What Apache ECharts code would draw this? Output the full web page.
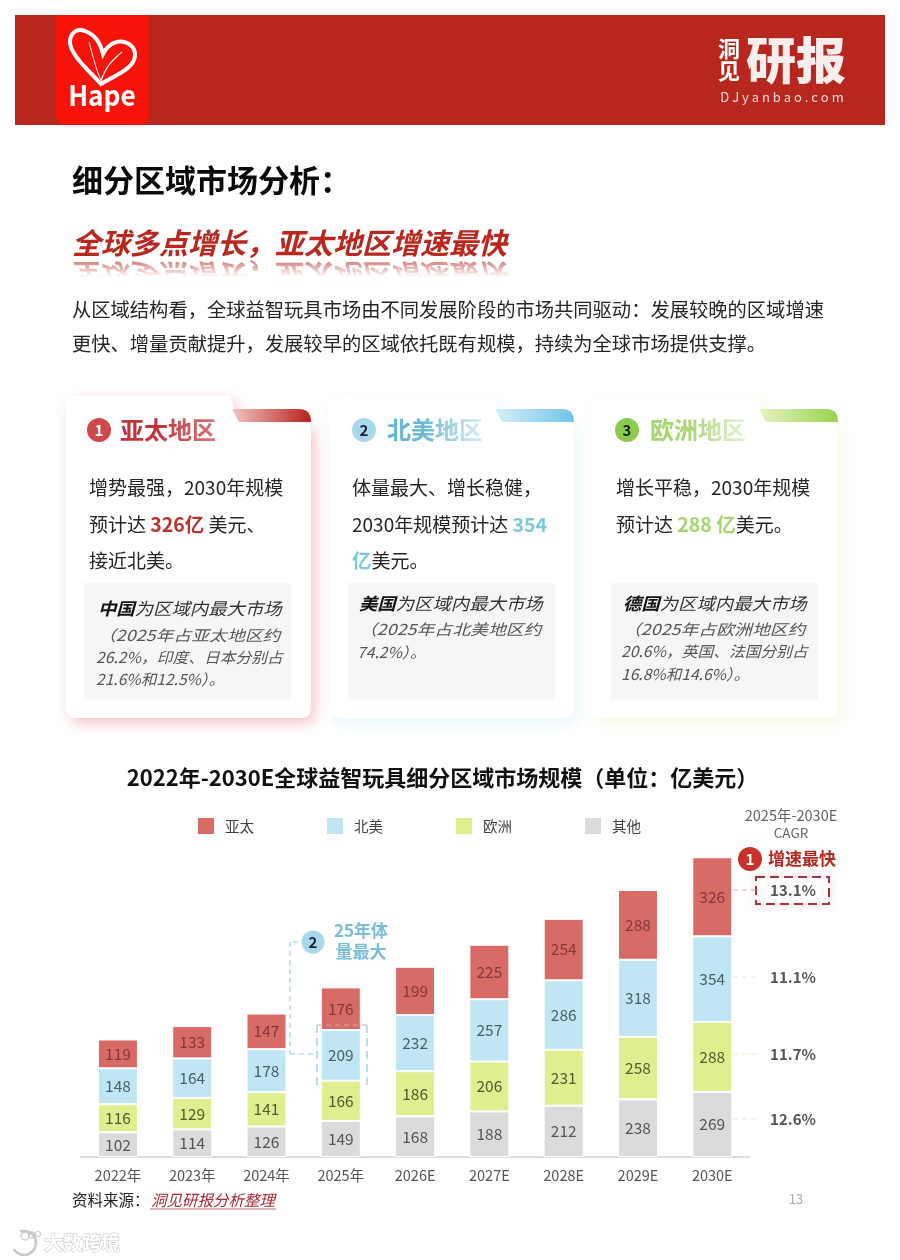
<!DOCTYPE html>
<html><head><meta charset="utf-8">
<style>html,body{margin:0;padding:0;background:#fff}#c{width:900px;height:1260px}</style>
<script src="https://cdn.jsdelivr.net/npm/echarts@6/dist/echarts.min.js"></script>
</head><body><div id="c"></div>
<script>
const categories = ['2022年','2023年','2024年','2025年','2026E','2027E','2028E','2029E','2030E'];
const apac = [119,133,147,176,199,225,254,288,326];
const northAmerica = [148,164,178,209,232,257,286,318,354];
const europe = [116,129,141,166,186,206,231,258,288];
const others = [102,114,126,149,168,188,212,238,269];
const legendNames = ['亚太','北美','欧洲','其他'];
const cagrLabels = ['13.1%','11.1%','11.7%','12.6%'];

const FF = '"Noto Sans CJK SC","Noto Sans",sans-serif';
const RED='#d96b67', BLUE='#bfe6f2', GREEN='#dfee8f', GREY='#dbdbdd';
const g = [];
function T(text,x,y,size,fill,o){o=o||{};
  g.push({type:'text',z:o.z||10,x:o.ex||0,y:o.ey||0,scaleY:o.scaleY==null?1:o.scaleY,scaleX:o.scaleX==null?1:o.scaleX,opacity:o.opacity==null?1:o.opacity,silent:true,
    style:{text,x,y,fill,align:o.align||'left',verticalAlign:o.va||'middle',
      font:(o.italic?'italic ':'')+(o.weight||'normal')+' '+size+'px '+FF,
      rich:o.rich,stroke:o.stroke,lineWidth:o.lineWidth||0,shadowBlur:o.sb||0,shadowColor:o.sc}});
}
function R(x,y,w,h,fill,o){o=o||{};g.push({type:'rect',z:o.z||5,silent:true,shape:{x,y,width:w,height:h,r:o.r||0},style:{fill,stroke:o.stroke,lineWidth:o.lw||0,lineDash:o.dash,shadowBlur:o.sb||0,shadowColor:o.sc}});}
/* small path sampler: graphic has no path type, so curves become polygons / polylines */
function pts(d){
  const tk=d.match(/[MHVLQCZ]|-?[\d.]+/g); const out=[]; let i=0,cx=0,cy=0,cmd='';
  const n=()=>parseFloat(tk[i++]);
  while(i<tk.length){
    if(/[MHVLQCZ]/.test(tk[i])) cmd=tk[i++];
    if(cmd==='Z') continue;
    if(cmd==='M'||cmd==='L'){cx=n();cy=n();out.push([cx,cy]);}
    else if(cmd==='H'){cx=n();out.push([cx,cy]);}
    else if(cmd==='V'){cy=n();out.push([cx,cy]);}
    else if(cmd==='Q'){const a=n(),b=n(),e=n(),f=n();for(let t=1;t<=10;t++){const u=t/10,v=1-u;out.push([v*v*cx+2*v*u*a+u*u*e,v*v*cy+2*v*u*b+u*u*f]);}cx=e;cy=f;}
    else if(cmd==='C'){const a=n(),b=n(),c=n(),h=n(),e=n(),f=n();for(let t=1;t<=16;t++){const u=t/16,v=1-u;out.push([v*v*v*cx+3*v*v*u*a+3*v*u*u*c+u*u*u*e,v*v*v*cy+3*v*v*u*b+3*v*u*u*h+u*u*u*f]);}cx=e;cy=f;}
  }
  return out;
}
function P(d,style,z){g.push({type:/Z\s*$/.test(d)?'polygon':'polyline',z:z||6,silent:true,shape:{points:pts(d)},style});}
function L(x1,y1,x2,y2,stroke,w,dash,z){g.push({type:'line',z:z||12,silent:true,shape:{x1,y1,x2,y2},style:{stroke,lineWidth:w||1,lineDash:dash}});}
function C(x,y,r,fill,o){o=o||{};g.push({type:'circle',z:o.z||9,silent:true,shape:{cx:x,cy:y,r},style:{fill,stroke:o.stroke,lineWidth:o.lw||0,shadowBlur:o.sb||0,shadowColor:o.sc}});}
function lg(c0,c1,horizontal){return {type:'linear',x:0,y:0,x2:horizontal?1:0,y2:horizontal?0:1,colorStops:[{offset:0,color:c0},{offset:1,color:c1}]};}

/* header */
R(15,15,870,110,'#b7271d');
P('M56 15H149V113Q149 125 137 125H68Q56 125 56 113Z',{fill:'#f5130a'},6);
P('M101 84C88 70 70 54 70 42C70 32 78 28 85 31C95 35 100 42 103 54C108 44 117 40 124 42C133 44 137 52 134 60C130 70 114 76 101 84Z',{fill:'none',stroke:'#fff',lineWidth:4},7);
P('M89 42C93 56 96 70 101 80',{fill:'none',stroke:'#fff',lineWidth:1},7);
P('M101 82C104 70 110 62 122 52',{fill:'none',stroke:'#fff',lineWidth:1.2},7);
T('Hape',0,95,28,'#fff',{align:'center',weight:'bold',ex:102,scaleX:.94});
T('洞',729,49,22,'#fff',{align:'center',weight:'bold'});
T('见',729,71,22,'#fff',{align:'center',weight:'bold'});
T('研报',796,60,50,'#f8eeee',{align:'center',weight:'900'});
T('D J y a n b a o . c o m',782,97,13,'#f4dcd9',{align:'center'});

/* headings */
T('细分区域市场分析：',72,180,31,'#0a0a0a',{weight:'bold'});
T('全球多点增长，亚太地区增速最快',72,243,29,'#b8281f',{weight:'bold',italic:true,z:10});
T('全球多点增长，亚太地区增速最快',72,0,29,'#b8281f',{weight:'bold',italic:true,ey:275,scaleY:-1,opacity:.3,z:8});
R(60,257,470,20,lg('rgba(255,255,255,.25)','rgba(255,255,255,1)'),{z:9});
R(60,277,470,14,'#fff',{z:9});
T('从区域结构看，全球益智玩具市场由不同发展阶段的市场共同驱动：发展较晚的区域增速',72,310,19.3,'#262626');
T('更快、增量贡献提升，发展较早的区域依托既有规模，持续为全球市场提供支撑。',72,344,19.3,'#262626');

/* cards */
const cards = [
 {x:66,glow:'rgba(226,90,100,.36)',strip:['#f3c3c3','#b8201c'],num:'1',numFill:'#d2484a',numTxt:'#fff',title:'亚太地区',tc:'#c2333a',fade:.35,noteDx:14,cdx:0,tdx:0,
  body:['增势最强，2030年规模','预计达 {a|326亿} 美元、','接近北美。'],hi:'#b8352d',
  noteY:[609,635,657,679],note:[['中国','为区域内最大市场'],'（2025年占亚太地区约','26.2%，印度、日本分别占','21.6%和12.5%）。']},
 {x:329,glow:'rgba(150,215,240,.26)',strip:['#d7eff9','#72c3e8'],num:'2',numFill:'#a9d8ec',numTxt:'#14233a',title:'北美地区',tc:'#69b8d6',fade:.8,noteDx:11,cdx:2,tdx:4,
  body:['体量最大、增长稳健，','2030年规模预计达 {a|354}','{a|亿}美元。'],hi:'#7cc8dc',
  noteY:[604,629,652],note:[['美国','为区域内最大市场'],'（2025年占北美地区约','74.2%）。']},
 {x:593,glow:'rgba(200,235,140,.26)',strip:['#e6f5c0','#97d24e'],num:'3',numFill:'#8ccb4e',numTxt:'#16220a',title:'欧洲地区',tc:'#a5d670',fade:.75,noteDx:12,cdx:1,tdx:3,
  body:['增长平稳，2030年规模','预计达 {a|288 亿}美元。'],hi:'#a4d86e',
  noteY:[604,629,651,674],note:[['德国','为区域内最大市场'],'（2025年占欧洲地区约','20.6%，英国、法国分别占','16.8%和14.6%）。']}
];
const noteScale=[1.08,1.19,1.05,1.04];
cards.forEach((c,i)=>{
  const x=c.x, r=x+245, tab=x+164;
  P(`M${x+10} 396H${tab}L${tab+9} 422H${r-10}Q${r} 422 ${r} 432V708Q${r} 718 ${r-10} 718H${x+10}Q${x} 718 ${x} 708V406Q${x} 396 ${x+10} 396Z`,
    {fill:'#fff',shadowBlur:14,shadowColor:c.glow,shadowOffsetX:4,shadowOffsetY:5},4);
  P(`M${tab+2} 409H${r-12}Q${r} 409 ${r} 422H${tab+9}Z`,{fill:lg(c.strip[0],c.strip[1],true)},5);
  C(x+33+c.cdx,430,12,c.numFill,{});
  T(c.num,x+33+c.cdx,430,15,c.numTxt,{align:'center',weight:'bold'});
  T(c.title,x+54+c.tdx,430,24,c.tc,{weight:'bold',z:10});
  R(x+90+c.tdx,414,62,34,lg('rgba(255,255,255,0)','rgba(255,255,255,'+c.fade+')',true),{z:11});
  c.body.forEach((t,k)=>T(t,x+23,488+k*36.5,19,'#262626',{rich:{a:{fontWeight:'bold',fontSize:19.5,fontFamily:FF,fill:c.hi}}}));
  const bx=x+18+(i==1?1:0);
  R(bx,583,207,117,'#f6f6f6');
  c.note.forEach((t,k)=>{
    const tx=bx+c.noteDx+(k<2?0:-2);
    if(k==0){
      T('{b|'+t[0]+'}'+t[1],0,c.noteY[k],17,'#333',{italic:true,ex:tx,scaleX:noteScale[k],rich:{b:{fontStyle:'italic',fontWeight:'bold',fontSize:17,fontFamily:FF,fill:'#111'}}});
    } else {
      T(t,0,c.noteY[k],15,'#555',{italic:true,ex:tx,scaleX:noteScale[k]});
    }
  });
});

/* chart title */
T('2022年-2030E全球益智玩具细分区域市场规模（单位：亿美元）',442.5,778,22,'#111',{align:'center',weight:'bold'});

/* right CAGR column */
T('2025年-2030E',791,815,14.5,'#666',{align:'center'});
T('CAGR',791,833,13.5,'#666',{align:'center'});
C(750,859,12,'#c8302c',{});
T('1',750,859,15,'#fff',{align:'center',weight:'bold'});
T('增速最快',768,859,17,'#b8281f',{weight:'bold'});
R(756,877,73,27,'#fff',{stroke:'#a83345',lw:2,dash:[9,5],sb:10,sc:'rgba(225,110,110,.22)'});
const cagrY=[890,977,1054,1119], cagrLine=['#e3a3a3','#dcecef','#ecf4c4','#e4e4e6'];
cagrLabels.forEach((t,i)=>{
  T(t,793,cagrY[i],15,'#555',{align:'center',weight:'bold',z:13});
  L(733,cagrY[i],i==0?756:757,cagrY[i],cagrLine[i],1.2,[5,4]);
});

/* 2025 annotation */
const A='#8fc9dc';
C(313,942,11.5,'#a9d8ec',{});
T('2',313,942,15,'#14233a',{align:'center',weight:'bold'});
T('25年体',361,931,17,'#78bed8',{align:'center',weight:'bold'});
T('量最大',361,952,17,'#78bed8',{align:'center',weight:'bold'});
L(298,942,290,942,A,1,[5,4]);
L(290,942,290,1054,A,1,[5,4]);
L(290,1054,316,1054,A,1,[5,4]);
L(317,1025,317,1085,A,1.2,[8,5]);
L(367,1025,367,1085,A,1.2,[8,5]);
L(317,1025,367,1025,'#e4a5a0',1,[5,4]);

/* footer */
T('资料来源：',72,1200,15.5,'#222');
T('洞见研报分析整理',151,1200,15.5,'#a82a35',{italic:true});
L(150,1209,276,1209,'#c86a70',1.2);
T('13',796,1199,13,'#aaa',{align:'center'});

/* watermark */
g.push({type:'arc',z:10,silent:true,shape:{cx:24,cy:1243,r:12,startAngle:-1.9,endAngle:2.6},style:{fill:'none',stroke:'#c9c9c9',lineWidth:2.5}});
C(25,1236,4,'none',{stroke:'#cfcfcf',lw:1.5});
C(32,1235,3,'none',{stroke:'#cfcfcf',lw:1.5});
C(38,1234,2.5,'none',{stroke:'#cfcfcf',lw:1.2});
T('大数跨境',44,1243,19,'#fff',{stroke:'#c4c4c4',lineWidth:1,weight:'bold'});

function barSeries(name,data,color,labelColor){
  return {name,type:'bar',stack:'t',data,barWidth:40,z:3,
    itemStyle:{color,borderColor:'#fff',borderWidth:1},
    label:{show:true,position:'inside',fontSize:15.5,fontFamily:FF,color:labelColor}};
}
const chart = echarts.init(document.getElementById('c'),null,{renderer:'canvas'});
chart.setOption({
  animation:false,backgroundColor:'#fff',
  legend:{left:191,top:811,itemWidth:18,itemHeight:18,itemGap:71,icon:'rect',
    data:legendNames,selectedMode:false,
    textStyle:{fontFamily:FF,fontSize:14.5,color:'#444',padding:[0,0,0,5]}},
  grid:{left:80.8,right:150.6,top:842,bottom:103},
  xAxis:{type:'category',data:categories,
    axisLine:{lineStyle:{color:'#dedede',width:2}},axisTick:{show:false},
    axisLabel:{fontFamily:FF,fontSize:14.5,color:'#555',margin:11}},
  yAxis:{type:'value',min:0,max:1300,show:false,splitLine:{show:false}},
  series:[
    barSeries('其他',others,GREY,'#555'),
    barSeries('欧洲',europe,GREEN,'#555a30'),
    barSeries('北美',northAmerica,BLUE,'#47616c'),
    barSeries('亚太',apac,RED,'#7f3a38')
  ],
  graphic:{elements:g}
});
</script></body></html>
